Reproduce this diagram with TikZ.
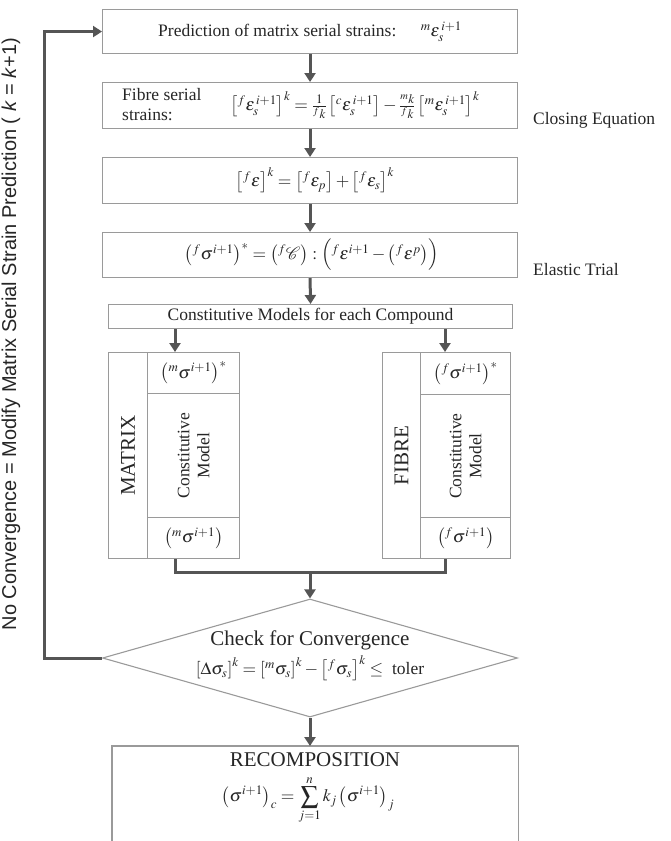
\documentclass[tikz,border=0pt]{standalone}
\usepackage{mathptmx}
\usepackage[no-math]{fontspec}
\setmainfont{Liberation Serif}
\newfontfamily\sidefont{Liberation Sans}
\usetikzlibrary{arrows.meta,shapes.geometric}
\definecolor{boxgray}{HTML}{9A9A9A}
\definecolor{arrgray}{HTML}{555555}
\definecolor{txt}{HTML}{262626}
\begin{document}
\begin{tikzpicture}[x=1pt,y=-1pt,
  box/.style={draw=boxgray,line width=1.1pt,inner sep=0pt,anchor=north west},
  txtn/.style={inner sep=0pt,text=txt,font=\fontsize{17.5}{20}\selectfont},
  bigt/.style={inner sep=0pt,text=txt,font=\fontsize{21}{24}\selectfont},
  flow/.style={draw=arrgray,line width=3pt,-{Triangle[width=11pt,length=9pt]}},
  joinline/.style={draw=arrgray,line width=3pt}]
\useasboundingbox (0,0) rectangle (671,841);
% main boxes
\node[box,minimum width=415pt,minimum height=44pt] (b1) at (102,9) {};
\node[txtn] at (b1.center) {Prediction of matrix serial strains:\hspace{1.4em}${}^{m}\varepsilon_{s}^{\,i+1}$};
\node[box,minimum width=415pt,minimum height=46pt] (b2) at (102,82) {};
\node[txtn,anchor=west,align=left] (b2t) at (122,105) {Fibre serial\\strains:};
\node[txtn] (b2e) at (355,105) {$\left[{}^{f}\varepsilon_{s}^{\,i+1}\right]^{k} = \frac{1}{{}^{f}k}\left[{}^{c}\varepsilon_{s}^{\,i+1}\right] - \frac{{}^{m}k}{{}^{f}k}\left[{}^{m}\varepsilon_{s}^{\,i+1}\right]^{k}$};
\node[box,minimum width=415pt,minimum height=46pt] (b3) at (102,157) {};
\node[txtn] at (315,180) {$\left[{}^{f}\varepsilon\right]^{k} = \left[{}^{f}\varepsilon_{p}\right] + \left[{}^{f}\varepsilon_{s}\right]^{k}$};
\node[box,minimum width=415pt,minimum height=45pt] (b4) at (102,232) {};
\node[txtn] at (312,255) {$\left({}^{f}\sigma^{i+1}\right)^{*} = \left({}^{f}\mathcal{C}\right) : \Bigl({}^{f}\varepsilon^{i+1} - \left({}^{f}\varepsilon^{p}\right)\Bigr)$};
\node[box,minimum width=404pt,minimum height=24pt] (b5) at (108,304) {};
\node[txtn] at (b5.center) {Constitutive Models for each Compound};
% side labels
\node[txtn,anchor=west] (close) at (533,120) {Closing Equation};
\node[txtn,anchor=west] (elastic) at (533,270) {Elastic Trial};
% matrix
\node[box,minimum width=39pt,minimum height=206pt] (mlab) at (108,352) {};
\node[bigt,rotate=90] at (mlab.center) {MATRIX};
\node[box,minimum width=92pt,minimum height=41pt] (mtop) at (147,352) {};
\node[txtn] at (mtop.center) {$\left({}^{m}\sigma^{i+1}\right)^{*}$};
\node[box,minimum width=92pt,minimum height=124pt] (mmid) at (147,393) {};
\node[txtn,rotate=90,align=center] at (mmid.center) {Constitutive\\Model};
\node[box,minimum width=92pt,minimum height=41pt] (mbot) at (147,517) {};
\node[txtn] at (mbot.center) {$\left({}^{m}\sigma^{i+1}\right)$};
% fibre
\node[box,minimum width=38pt,minimum height=206pt] (flab) at (382,352) {};
\node[bigt,rotate=90] at (flab.center) {FIBRE};
\node[box,minimum width=90pt,minimum height=42pt] (ftop) at (420,352) {};
\node[txtn] at (ftop.center) {$\left({}^{f}\sigma^{i+1}\right)^{*}$};
\node[box,minimum width=90pt,minimum height=123pt] (fmid) at (420,394) {};
\node[txtn,rotate=90,align=center] at (fmid.center) {Constitutive\\Model};
\node[box,minimum width=90pt,minimum height=41pt] (fbot) at (420,517) {};
\node[txtn] at (fbot.center) {$\left({}^{f}\sigma^{i+1}\right)$};
% diamond
\node[draw=boxgray,line width=1.1pt,diamond,inner sep=0pt,minimum width=415pt,minimum height=118pt] (dia) at (310,658) {};
\node[bigt] at (310,640) {Check for Convergence};
\node[txtn] at (310,668) {$\left[\Delta\sigma_{s}\right]^{k} = \left[{}^{m}\sigma_{s}\right]^{k} - \left[{}^{f}\sigma_{s}\right]^{k} \le$ \ toler};
% recomposition
\node[inner sep=0pt,anchor=north west,minimum width=406pt,minimum height=100pt] (rec) at (112,746) {};
\draw[boxgray,line width=1.1pt] (rec.south west) -- (rec.north west) -- (rec.north east) -- (rec.south east);
\node[bigt] at (315,760) {RECOMPOSITION};
\node[txtn] at (308,800) {$\displaystyle\left(\sigma^{i+1}\right)_{c} = \sum_{j=1}^{n} k_{j}\left(\sigma^{i+1}\right)_{j}$};
% side feedback label
\node[inner sep=0pt,rotate=90,text=txt,font=\sidefont\fontsize{20}{22}\selectfont] (side) at (11,334) {No Convergence = Modify Matrix Serial Strain Prediction ( \textit{k} = \textit{k}+1)};
% connectors
\coordinate (mx) at (175,0);
\coordinate (fx) at (445,0);
\coordinate (jn) at (310,572);
\coordinate (fb) at (44,0);
\draw[flow] (b1.south) -- (b2.north);
\draw[flow] (b2.south) -- (b3.north);
\draw[flow] (b3.south) -- (b4.north);
\draw[flow] (b4.south) -- (b5.north);
\draw[flow] (b5.south -| mx) -- (mtop.north -| mx);
\draw[flow] (b5.south -| fx) -- (ftop.north -| fx);
\draw[joinline] (mbot.south -| mx) -- (mx |- jn) -- (fx |- jn) -- (fbot.south -| fx);
\draw[flow] (jn) -- (dia.north);
\draw[flow] (dia.south) -- (rec.north -| dia.south);
\draw[flow] (dia.west) -- (dia.west -| fb) -- (fb |- b1.west) -- (b1.west);
\end{tikzpicture}
\end{document}
